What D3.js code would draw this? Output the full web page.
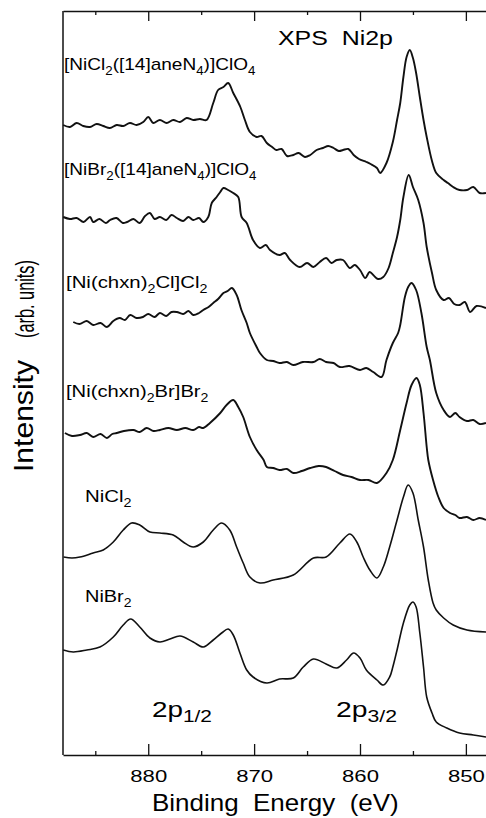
<!DOCTYPE html>
<html>
<head>
<meta charset="utf-8">
<script src="https://cdn.jsdelivr.net/npm/d3@7"></script>
<style>
  html, body { margin: 0; padding: 0; background: #fff; }
  svg { display: block; font-family: "Liberation Sans", Arial, sans-serif; }
</style>
</head>
<body>
<div id="graph"></div>
<script>
// spectrum labels, "_" toggles subscript
const spectrumLabels = [
  "[NiCl_2_([14]aneN_4_)]ClO_4",
  "[NiBr_2_([14]aneN_4_)]ClO_4",
  "[Ni(chxn)_2_Cl]Cl_2",
  "[Ni(chxn)_2_Br]Br_2",
  "NiCl_2",
  "NiBr_2",
];

// [binding energy (eV), intensity (arb. units, offset stack)]
const niCl14 = [
  [888.03, 630], [887.39, 628], [886.76, 632], [886.14, 629], [885.5, 628], [884.87, 631],
  [884.25, 629], [883.62, 627], [882.98, 630], [882.36, 629], [881.73, 632], [881.1, 630],
  [880.47, 633], [880.0, 638], [879.53, 632], [878.9, 635], [878.26, 632], [877.64, 635],
  [877.0, 633], [876.37, 637], [875.75, 635], [875.12, 636], [874.49, 635], [873.86, 652],
  [873.4, 665], [872.9, 668], [872.45, 672], [871.97, 662], [871.3, 648], [870.87, 635],
  [870.4, 623], [869.76, 618], [869.3, 619], [868.8, 612], [868.3, 608], [867.9, 605],
  [867.4, 606], [866.9, 599], [866.3, 600], [865.8, 602], [865.2, 598], [864.7, 600],
  [864.1, 605], [863.5, 607], [863.0, 609], [862.5, 607], [862.0, 604], [861.6, 605],
  [861.1, 606], [860.6, 600], [860.1, 596], [859.4, 593], [859.0, 591], [858.4, 587],
  [858.1, 582], [857.5, 592], [856.9, 613], [856.5, 635], [856.2, 652], [855.9, 678],
  [855.6, 698], [855.3, 705], [855.0, 697], [854.7, 682], [854.35, 658], [854.0, 635],
  [853.7, 618], [853.2, 594], [852.8, 582], [852.1, 575], [851.7, 572], [851.2, 568],
  [850.6, 565], [849.9, 565], [849.3, 568], [848.7, 562], [848.1, 562],
];

const niBr14 = [
  [888.03, 538], [887.4, 536], [886.76, 537], [886.1, 533], [885.5, 538], [885.2, 533],
  [884.6, 536], [884.0, 532], [883.6, 535], [883.0, 537], [882.4, 532], [882.0, 533],
  [881.4, 536], [880.8, 532], [880.3, 539], [879.84, 542], [879.4, 536], [878.9, 538],
  [878.3, 535], [877.8, 540], [877.3, 537], [876.7, 534], [876.2, 538], [875.75, 535],
  [875.2, 537], [874.8, 533], [874.33, 538], [874.0, 552], [873.54, 558], [873.2, 563],
  [872.9, 567], [872.45, 565], [871.97, 562], [871.5, 558], [871.18, 538], [870.7, 532],
  [870.1, 515], [869.45, 507], [868.9, 510], [868.5, 505], [867.6, 500], [867.1, 502],
  [866.6, 495], [865.7, 488], [865.0, 492], [864.4, 488], [863.8, 493], [863.2, 497],
  [862.7, 492], [862.2, 495], [861.6, 495], [860.95, 487], [860.5, 490], [860.0, 485],
  [859.5, 477], [859.1, 483], [858.75, 480], [858.3, 476], [857.8, 478], [857.3, 487],
  [856.9, 502], [856.5, 518], [856.2, 535], [855.9, 558], [855.4, 580], [855.0, 568],
  [854.5, 555], [854.0, 532], [853.7, 508], [853.2, 482], [852.8, 465], [852.1, 455],
  [851.6, 457], [851.1, 451], [850.6, 450], [850.1, 453], [849.6, 443], [849.0, 449],
  [848.1, 447],
];

const chxnCl = [
  [887.08, 433], [886.5, 431], [885.8, 434], [885.2, 430], [884.5, 432], [883.9, 428],
  [883.3, 434], [882.7, 437], [882.2, 435], [881.7, 440], [881.1, 437], [880.5, 438],
  [880.0, 441], [879.4, 438], [878.9, 442], [878.3, 439], [877.8, 443], [877.3, 443],
  [876.7, 441], [876.2, 444], [875.75, 440], [875.2, 442], [874.8, 445], [874.3, 448],
  [873.86, 452], [873.4, 456], [872.9, 462], [872.5, 464], [872.1, 467], [871.65, 460],
  [871.2, 445], [870.7, 432], [870.4, 422], [869.76, 408], [869.45, 402], [868.8, 395],
  [868.2, 394], [867.6, 392], [866.9, 393], [866.3, 390], [865.4, 393], [864.4, 393],
  [863.8, 396], [863.2, 393], [862.5, 392], [861.9, 388], [861.0, 389], [860.0, 385],
  [859.4, 387], [858.75, 383], [857.96, 378], [857.5, 395], [856.9, 412], [856.4, 422],
  [856.2, 430], [855.76, 458], [855.45, 468], [855.13, 472], [854.7, 465], [854.2, 442],
  [853.7, 408], [853.4, 395], [852.8, 362], [852.1, 345], [851.5, 338], [851.0, 342],
  [850.6, 338], [849.9, 334], [849.3, 335], [848.7, 331], [848.1, 332],
];

const chxnBr = [
  [887.87, 322], [887.2, 319], [886.45, 320], [885.8, 322], [885.2, 318], [884.5, 321],
  [883.9, 317], [883.4, 321], [882.98, 322], [882.3, 324], [881.4, 325], [880.8, 323],
  [880.15, 327], [879.5, 324], [878.9, 325], [878.1, 327], [877.3, 325], [876.5, 327],
  [875.75, 325], [875.2, 328], [874.8, 327], [874.17, 332], [873.2, 342], [872.6, 350],
  [871.97, 355], [871.5, 348], [871.03, 338], [870.4, 318], [869.76, 305], [869.1, 295],
  [868.8, 288], [868.2, 287], [867.6, 285], [866.9, 286], [866.3, 282], [865.5, 284],
  [864.7, 287], [863.9, 289], [863.2, 288], [862.4, 284], [861.6, 280], [860.8, 278],
  [860.0, 275], [859.2, 275], [858.4, 272], [857.5, 282], [856.9, 295], [856.2, 325],
  [855.6, 352], [855.13, 370], [854.66, 377], [854.35, 370], [854.0, 342], [853.7, 308],
  [853.55, 295], [853.1, 275], [852.6, 258], [852.1, 247], [851.5, 242], [851.0, 240],
  [850.6, 237], [849.9, 238], [849.3, 235], [848.7, 237], [848.1, 235],
];

const niCl2 = [
  [888.0, 198], [887.2, 197], [886.45, 198], [885.2, 202], [884.25, 205], [883.3, 213],
  [882.36, 225], [881.57, 232], [880.8, 230], [879.84, 223], [878.9, 222], [877.64, 220],
  [876.7, 213], [875.75, 208], [874.8, 213], [873.86, 225], [873.07, 232], [872.3, 225],
  [871.65, 208], [871.03, 192], [870.4, 178], [869.45, 172], [868.2, 175], [866.3, 180],
  [864.4, 197], [863.2, 198], [861.9, 212], [860.95, 221], [860.3, 213], [859.7, 198],
  [859.07, 185], [858.4, 177], [857.8, 188], [857.2, 208], [856.5, 235], [855.9, 258],
  [855.45, 270], [855.0, 262], [854.5, 235], [854.0, 208], [853.55, 175], [853.1, 152],
  [852.8, 145], [852.1, 137], [851.2, 130], [849.9, 125], [848.1, 123],
];

const niBr2 = [
  [888.03, 105], [887.08, 103], [885.8, 105], [884.56, 108], [883.3, 118], [882.36, 130],
  [881.66, 136], [880.8, 128], [879.84, 117], [878.9, 113], [877.95, 116], [877.0, 119],
  [875.75, 113], [874.8, 108], [873.86, 115], [873.07, 122], [872.45, 126], [871.97, 120],
  [871.34, 102], [870.7, 85], [870.1, 78], [868.8, 72], [867.6, 76], [866.3, 77],
  [865.36, 88], [864.4, 96], [863.2, 91], [862.2, 87], [861.27, 95], [860.6, 102],
  [860.0, 97], [859.4, 85], [858.4, 75], [857.8, 70], [857.2, 78], [856.9, 88],
  [856.5, 105], [855.9, 132], [855.3, 150], [855.0, 153], [854.7, 148], [854.35, 122],
  [854.0, 88], [853.7, 58], [853.2, 42], [852.8, 33], [851.8, 27], [850.6, 22],
  [849.3, 20], [848.1, 18],
];

const spectra = [niCl14, niBr14, chxnCl, chxnBr, niCl2, niBr2];

// x axis ticks (eV)
const majorTicks = [880, 870, 860, 850];
const minorTicks = [885, 875, 865, 855];

// write a text with "_" subscripts, stretched horizontally to the wanted width
function addText(svg, str, o) {
  const t = svg.append("text")
    .attr("font-size", o.size)
    .attr("fill", "#000")
    .style("white-space", "pre");
  const shift = o.size * (o.subShift || 0.28);
  let prevSub = false;
  str.split("_").forEach((seg, i) => {
    if (!seg) return;
    const sub = i % 2 === 1;
    const ts = t.append("tspan").text(seg);
    if (sub) {
      ts.attr("font-size", o.size * (o.subScale || 0.7)).attr("dy", prevSub ? 0 : shift);
    } else if (prevSub) {
      ts.attr("dy", -shift);
    }
    prevSub = sub;
  });
  const bw = t.node().getBBox().width;
  const sx = o.width / bw;
  t.attr("transform", `translate(${o.x},${o.y}) rotate(${o.rotate || 0}) scale(${sx},1)`);
  return t;
}

function drawSpectra(id) {
  const w = 486;
  const h = 818;

  const x = d3.scaleLinear().domain([888.05, 848.1]).range([63, 486]);
  const y = d3.scaleLinear().domain([0, 745]).range([755, 10]);

  const svg = d3
    .select(`#${id}`)
    .append("svg")
    .attr("width", w)
    .attr("height", h);

  // bottom axis with labels
  const bottom = svg
    .append("g")
    .attr("transform", "translate(0,755)")
    .call(d3.axisBottom(x).tickValues(majorTicks).tickSize(-11).tickSizeOuter(0).tickPadding(15).tickFormat(d3.format("d")));
  bottom.select(".domain").attr("stroke", "#111").attr("stroke-width", 1.6);
  bottom.selectAll(".tick line").attr("stroke", "#111").attr("stroke-width", 1.3);
  bottom.selectAll(".tick text")
    .attr("font-size", 16.5)
    .attr("font-family", "Liberation Sans, Arial, sans-serif")
    .attr("fill", "#000")
    .attr("transform", "scale(1.34,1)");

  svg.append("g")
    .attr("transform", "translate(0,755)")
    .call(d3.axisBottom(x).tickValues(minorTicks).tickSize(-4).tickFormat(""))
    .call((g) => g.select(".domain").remove())
    .selectAll(".tick line").attr("stroke", "#111").attr("stroke-width", 1.3);

  // top axis, ticks only
  const top = svg
    .append("g")
    .attr("transform", "translate(0,11)")
    .call(d3.axisTop(x).tickValues(majorTicks).tickSize(-10).tickSizeOuter(0).tickFormat(""));
  top.select(".domain").attr("stroke", "#111").attr("stroke-width", 1.4);
  top.selectAll(".tick line").attr("stroke", "#111").attr("stroke-width", 1.3);

  svg.append("g")
    .attr("transform", "translate(0,11)")
    .call(d3.axisTop(x).tickValues(minorTicks).tickSize(-4).tickFormat(""))
    .call((g) => g.select(".domain").remove())
    .selectAll(".tick line").attr("stroke", "#111").attr("stroke-width", 1.3);

  // left frame
  svg.append("line")
    .attr("x1", x.range()[0]).attr("x2", x.range()[0])
    .attr("y1", y.range()[1] + 1).attr("y2", y.range()[0])
    .attr("stroke", "#111")
    .attr("stroke-width", 1.5);

  // spectra
  const line = d3.line()
    .x((d) => x(d[0]))
    .y((d) => y(d[1]))
    .curve(d3.curveCatmullRom.alpha(0.5));
  svg.append("g")
    .selectAll("path")
    .data(spectra)
    .enter()
    .append("path")
    .attr("d", line)
    .attr("fill", "none")
    .attr("stroke", "#111")
    .attr("stroke-width", (d, i) => (i < 4 ? 1.9 : 1.6))
    .attr("stroke-linejoin", "round");

  // sample labels
  const labelPos = [
    { x: 64, y: 70, width: 192 },
    { x: 64, y: 175, width: 193 },
    { x: 66, y: 288, width: 142 },
    { x: 66, y: 397, width: 143 },
    { x: 85, y: 502, width: 47 },
    { x: 85, y: 602, width: 47 },
  ];
  spectrumLabels.forEach((s, i) => addText(svg, s, { ...labelPos[i], size: 17 }));

  addText(svg, "XPS  Ni2p", { x: 278, y: 45, width: 115, size: 20.5 });
  addText(svg, "2p_1/2", { x: 152, y: 717, width: 60, size: 22, subScale: 0.75, subShift: 0.22 });
  addText(svg, "2p_3/2", { x: 336, y: 717, width: 61, size: 22, subScale: 0.75, subShift: 0.22 });

  // axis titles
  addText(svg, "Binding  Energy  (eV)", { x: 152, y: 811, width: 247, size: 23 });
  addText(svg, "Intensity", { x: 33, y: 472, width: 112, size: 28, rotate: -90 });
  addText(svg, "(arb. units)", { x: 34, y: 338, width: 78, size: 26, rotate: -90 });
}

document.addEventListener("DOMContentLoaded", function () {
  drawSpectra("graph");
});
</script>
</body>
</html>
